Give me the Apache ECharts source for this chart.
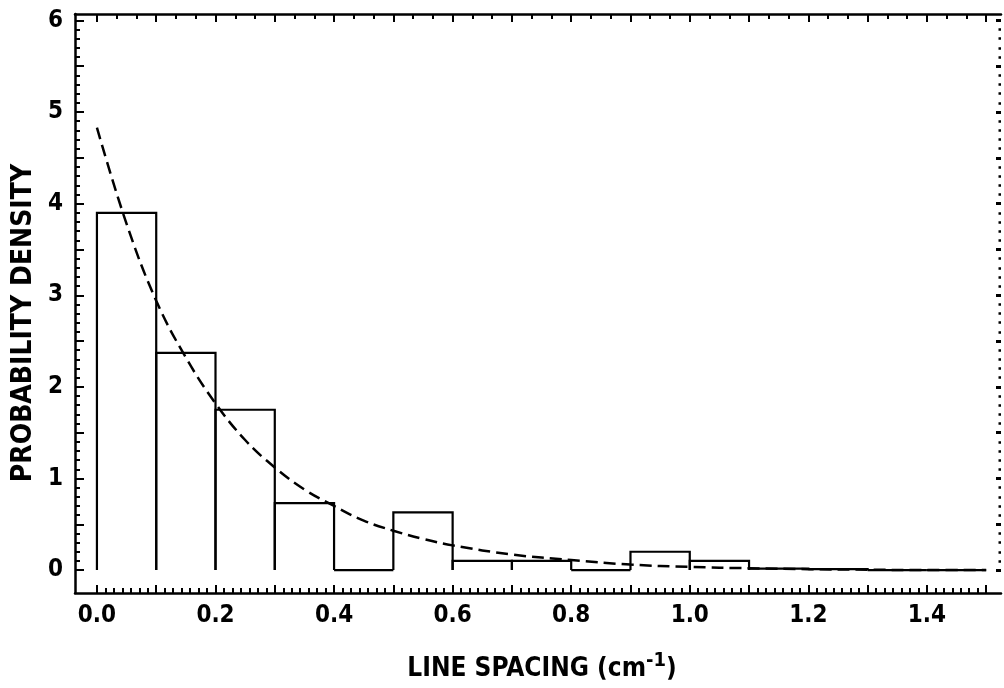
<!DOCTYPE html>
<html>
<head>
<meta charset="utf-8">
<script src="https://cdn.jsdelivr.net/npm/echarts@6/dist/echarts.min.js"></script>
<style>
html,body{margin:0;padding:0;background:#fff;}
#chart{width:1004px;height:688px;}
</style>
</head>
<body>
<div id="chart"></div>
<script>
// ---- data ----
var binEdgesLeft  = [0.0,0.1,0.2,0.3,0.4,0.5,0.6,0.7,0.8,0.9,1.0,1.1,1.2,1.3,1.4];
var binEdgesRight = [0.1,0.2,0.3,0.4,0.5,0.6,0.7,0.8,0.9,1.0,1.1,1.2,1.3,1.4,1.5];
var binHeights    = [3.90,2.37,1.75,0.73,0.0,0.63,0.10,0.10,0.0,0.20,0.10,0.015,0.01,0.0,0.0];

var curveX = [0.0,0.05,0.1,0.15,0.2,0.25,0.3,0.35,0.4,0.45,0.5,0.55,0.6,0.7,0.8,0.9,1.0,1.1,1.2,1.3,1.4,1.5];
var curveY = [4.83,3.78,2.94,2.32,1.82,1.42,1.12,0.88,0.70,0.54,0.43,0.34,0.27,0.17,0.11,0.06,0.035,0.02,0.01,0.005,0.0,0.0];

var xLabelValues = [0.0,0.2,0.4,0.6,0.8,1.0,1.2,1.4];
var yLabelValues = [0,1,2,3,4,5,6];

// ---- tick positions ----
function range(a,b,step){var r=[];for(var i=0;a+i*step<=b+1e-9;i++){r.push(+(a+i*step).toFixed(6));}return r;}
var xMajor = range(0,1.5,0.1);
var xMinorBottom = range(0,1.5,0.1/7);
var xMinorTop = range(0,1.5,0.1/3);
var yMajor = range(0,6,0.5);
var yMinor = range(0,6,0.1);

var X_MIN=-0.037, X_MAX=1.525, Y_MIN=-0.25, Y_MAX=6.07;
var numFont = "'DejaVu Sans Condensed','DejaVu Sans',sans-serif";
var titleFont = "'DejaVu Sans Condensed','DejaVu Sans',sans-serif";

function xAx(pos, ticks, len, showLine, labels){
  return {type:'value',min:X_MIN,max:X_MAX,position:pos,
    axisLine:{show:showLine,onZero:false,lineStyle:{color:'#000',width:2.5}},
    axisTick:{show:true,inside:true,length:len,customValues:ticks,lineStyle:{color:'#000',width:2}},
    axisLabel:labels?{show:true,customValues:labels,margin:11,color:'#000',fontFamily:numFont,fontWeight:'bold',fontSize:24,
      formatter:function(v){return v.toFixed(1);}}:{show:false},
    splitLine:{show:false}};
}
function yAx(pos, ticks, len, showLine, labels, tickW){
  return {type:'value',min:Y_MIN,max:Y_MAX,position:pos,
    axisLine:{show:showLine,onZero:false,lineStyle:{color:'#000',width:2.5}},
    axisTick:{show:true,inside:true,length:len,customValues:ticks,lineStyle:{color:'#000',width:tickW||2}},
    axisLabel:labels?{show:true,customValues:labels,margin:12,color:'#000',fontFamily:numFont,fontWeight:'bold',fontSize:24,
      formatter:function(v){return String(Math.round(v));}}:{show:false},
    splitLine:{show:false}};
}

var histData = binHeights.map(function(h,i){return [binEdgesLeft[i],binEdgesRight[i],h];});
var curveData = curveX.map(function(x,i){return [x,curveY[i]];});

var chart = echarts.init(document.getElementById('chart'),null,{renderer:'canvas'});
chart.setOption({
  backgroundColor:'#fff',
  animation:false,
  grid:{left:75,right:3,top:14,bottom:95},
  xAxis:[
    xAx('bottom', xMajor, 8, true, xLabelValues),
    xAx('bottom', xMinorBottom, 5, false, null),
    xAx('top', xMajor, 8, true, null),
    xAx('top', xMinorTop, 5, false, null)
  ],
  yAxis:[
    yAx('left', yMajor, 9, true, yLabelValues),
    yAx('left', yMinor, 5, false, null),
    yAx('right', yMajor, 5, false, null, 3),
    yAx('right', yMinor, 2.5, false, null, 2.5)
  ],
  series:[
    {type:'custom',xAxisIndex:0,yAxisIndex:0,data:histData,clip:false,
      renderItem:function(params,api){
        var x0=api.value(0),x1=api.value(1),h=api.value(2);
        var p=[api.coord([x0,0]),api.coord([x0,h]),api.coord([x1,h]),api.coord([x1,0])];
        return {type:'polyline',shape:{points:p},style:{stroke:'#000',lineWidth:2.2,fill:null}};
      }},
    {type:'line',xAxisIndex:0,yAxisIndex:0,data:curveData,smooth:0.4,showSymbol:false,
      lineStyle:{color:'#000',width:2.5,type:[12,6]}}
  ],
  graphic:[
    {type:'text',x:542,y:669,
      style:{text:'LINE SPACING (cm{sup|-1})',fill:'#000',font:"bold 26px "+titleFont,
        textAlign:'center',textVerticalAlign:'middle',
        rich:{sup:{fontSize:20,fontWeight:'bold',fontFamily:titleFont,verticalAlign:'top',padding:[0,0,16,0]}}}},
    {type:'text',x:24,y:323,rotation:Math.PI/2,
      style:{text:'PROBABILITY DENSITY',fill:'#000',font:"bold 28px "+titleFont,
        textAlign:'center',textVerticalAlign:'middle'}}
  ]
});
</script>
</body>
</html>
